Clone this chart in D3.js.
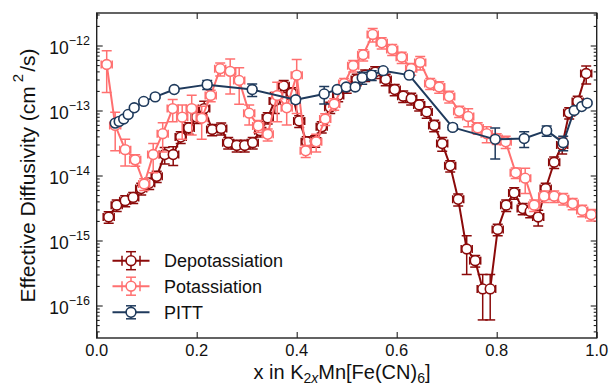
<!DOCTYPE html>
<html><head><meta charset="utf-8">
<script src="https://cdn.jsdelivr.net/npm/d3@7"></script>
<style>body{margin:0;background:#fff} svg{display:block} text{font-family:"Liberation Sans",Arial,sans-serif;fill:#111}</style>
</head><body><svg id="c" width="614" height="388"></svg>
<script>
// ---------------- data ----------------
const seriesNames = ["Depotassiation", "Potassiation", "PITT"];
const seriesColors = ["#8b0a0a", "#ff7070", "#1f3a5c"];

const depX = [0.024,0.040,0.057,0.073,0.089,0.105,0.120,0.136,0.153,0.168,
  0.184,0.200,0.215,0.231,0.249,0.263,0.280,0.296,0.312,0.327,
  0.342,0.356,0.374,0.390,0.405,0.420,0.437,0.450,0.467,0.483,
  0.500,0.520,0.537,0.557,0.578,0.596,0.613,0.629,0.645,0.660,
  0.675,0.691,0.707,0.723,0.740,0.757,0.772,0.787,0.802,0.819,
  0.835,0.852,0.867,0.883,0.898,0.915,0.931,0.945,0.962,0.979];
const depD = [2.3e-15,3.5e-15,4.1e-15,4.6e-15,6.3e-15,7.6e-15,9.7e-15,2.1e-14,2.1e-14,3.9e-14,
  5.4e-14,7.9e-14,1.07e-13,5.1e-14,5.3e-14,3.2e-14,2.9e-14,2.9e-14,3.2e-14,4.9e-14,
  7.7e-14,1.4e-13,2.4e-13,1.86e-13,6.9e-14,3.3e-14,3.4e-14,5.6e-14,1.12e-13,1.7e-13,
  2.3e-13,3.0e-13,3.5e-13,3.9e-13,3.0e-13,2.1e-13,1.66e-13,1.53e-13,1.22e-13,9.5e-14,
  5.9e-14,3.1e-14,1.41e-14,4.3e-15,7.4e-16,4.9e-16,1.8e-16,1.8e-16,1.48e-15,3.5e-15,
  5.4e-15,3.1e-15,2.8e-15,2.3e-15,6.3e-15,1.6e-14,2.95e-14,9.2e-14,1.38e-13,3.7e-13];
const depErr = [4.6e-16,7e-16,8e-16,9e-16,1.3e-15,1.5e-15,1.9e-15,6e-15,6.7e-15,8e-15,
  1.1e-14,1.6e-14,3.2e-14,1e-14,1.1e-14,6.4e-15,6e-15,6e-15,6.4e-15,1e-14,
  1.5e-14,5e-14,5e-14,3.7e-14,1.4e-14,6.6e-15,6.8e-15,1.1e-14,2.2e-14,3.4e-14,
  4.6e-14,6e-14,7e-14,8e-14,6e-14,4.2e-14,3.3e-14,3.1e-14,2.4e-14,1.9e-14,
  1.2e-14,7.4e-15,2.8e-15,9e-16,4.4e-16,1e-16,1.2e-16,1.2e-16,3e-16,7e-16,
  1.1e-15,6.2e-16,5.6e-16,6.3e-16,1.3e-15,3.2e-15,8e-15,1.8e-14,2.8e-14,1.15e-13];

const potX = [0.020,0.037,0.057,0.077,0.095,0.113,0.132,0.152,0.171,0.190,
  0.210,0.228,0.247,0.267,0.285,0.305,0.323,0.342,0.361,0.380,
  0.400,0.418,0.439,0.457,0.475,0.495,0.513,0.533,0.552,0.570,
  0.591,0.610,0.629,0.647,0.667,0.685,0.705,0.725,0.743,0.762,
  0.780,0.800,0.818,0.838,0.857,0.875,0.895,0.915,0.933,0.952,
  0.971,0.989];
const potD = [5.1e-13,5.9e-14,2.5e-14,1.74e-14,7.4e-15,2.1e-14,4.4e-14,1.07e-13,7.9e-14,1.07e-13,
  7.6e-14,1.7e-13,4.4e-13,4.0e-13,2.9e-13,9.1e-14,5.8e-14,4.3e-14,1.7e-13,1.1e-13,
  3.5e-13,2.4e-14,3.3e-14,7.4e-14,1.26e-13,2.6e-13,4.9e-13,7.2e-13,1.48e-12,1.1e-12,
  8.7e-13,6.6e-13,4.4e-13,5.5e-13,2.6e-13,2.3e-13,1.64e-13,9.7e-14,8.1e-14,5.4e-14,
  4.4e-14,3.7e-14,3.3e-14,1.1e-14,9.1e-15,3.5e-15,4.8e-15,4.8e-15,4.4e-15,3.7e-15,
  2.9e-15,2.5e-15];
const potErr = [3.2e-13,3.5e-14,1.1e-14,3.5e-15,1.5e-15,1.0e-14,2.1e-14,4e-14,4.3e-14,6.5e-14,
  4e-14,3.4e-14,1.0e-13,2.2e-13,1.65e-13,3.1e-14,1.2e-14,9e-15,1.03e-13,5e-14,
  2.6e-13,5e-15,1e-14,1.5e-14,2.5e-14,5.2e-14,1e-13,1.4e-13,3.5e-13,2.2e-13,
  1.7e-13,1.3e-13,9e-14,1.3e-13,5e-14,4.6e-14,3.3e-14,1.9e-14,2.5e-14,1.1e-14,
  1.2e-14,7e-15,7e-15,2e-15,3.8e-15,7e-16,9.6e-16,9.6e-16,8.8e-16,7.4e-16,
  5.8e-16,5e-16];

const pittX = [0.037,0.045,0.054,0.063,0.075,0.094,0.117,0.155,0.221,0.311,
  0.398,0.455,0.481,0.499,0.517,0.531,0.550,0.573,0.625,0.712,
  0.797,0.855,0.900,0.933,0.955,0.970,0.981];
const pittD = [6.4e-14,6.8e-14,7.4e-14,8.7e-14,1.1e-13,1.38e-13,1.62e-13,2.1e-13,2.5e-13,2.1e-13,
  1.46e-13,1.8e-13,2.1e-13,2.3e-13,2.3e-13,3.2e-13,3.5e-13,4.1e-13,3.5e-13,5.5e-14,
  3.6e-14,3.7e-14,4.9e-14,3.2e-14,1.0e-13,1.15e-13,1.3e-13];
const pittErr = [3e-15,3e-15,4e-15,4e-15,6e-15,7e-15,8e-15,1e-14,4e-14,4.6e-14,
  1.5e-14,5.4e-14,1e-14,1.2e-14,1.2e-14,6.7e-14,6e-14,3e-14,2e-14,5e-15,
  1.8e-14,1e-14,9e-15,8e-15,5e-15,6e-15,6e-15];

const xErrs = [0.011, 0.011, 0];   // horizontal error per series

const xTickValues = [0, 0.2, 0.4, 0.6, 0.8, 1.0];
const xTickLabels = ["0.0", "0.2", "0.4", "0.6", "0.8", "1.0"];
const yTickExps = [-16, -15, -14, -13, -12];
const yTickLabels = ["\u221216", "\u221215", "\u221214", "\u221213", "\u221212"];

// ---------------- chart ----------------
const L = 96.7, R = 596.7, T = 13, B = 338;
const svg = d3.select("#c");
const x = d3.scaleLinear().domain([0, 1]).range([L, R]);
const y = d3.scaleLog().domain([Math.pow(10, -16.5), Math.pow(10, -11.5)]).range([B, T]);

const majorY = yTickExps.map(e => Math.pow(10, e));
const minorY = [];
for (let e = -17; e <= -12; e++) for (let m = 2; m <= 9; m++) {
  const v = m * Math.pow(10, e);
  if (v > y.domain()[0] && v < y.domain()[1]) minorY.push(v);
}

function styleAxis(g) {
  g.select(".domain").remove();
  g.selectAll(".tick line").attr("stroke", "#222").attr("stroke-width", 1.1);
  g.selectAll(".tick text").remove();
}
svg.append("g").attr("transform", `translate(0,${B})`).call(d3.axisBottom(x).tickValues(xTickValues).tickSize(-6)).call(styleAxis);
svg.append("g").attr("transform", `translate(0,${T})`).call(d3.axisTop(x).tickValues(xTickValues).tickSize(-6)).call(styleAxis);
svg.append("g").attr("transform", `translate(${L},0)`).call(d3.axisLeft(y).tickValues(majorY).tickSize(-6)).call(styleAxis);
svg.append("g").attr("transform", `translate(${R},0)`).call(d3.axisRight(y).tickValues(majorY).tickSize(-6)).call(styleAxis);
svg.append("g").attr("transform", `translate(${L},0)`).call(d3.axisLeft(y).tickValues(minorY).tickSize(-3)).call(styleAxis);
svg.append("g").attr("transform", `translate(${R},0)`).call(d3.axisRight(y).tickValues(minorY).tickSize(-3)).call(styleAxis);

// tick labels
svg.append("g").selectAll("text").data(xTickValues).join("text")
  .attr("x", d => x(d)).attr("y", 356).attr("text-anchor", "middle")
  .attr("font-size", 16.5).text((d, i) => xTickLabels[i]);

const yl = svg.append("g").selectAll("text").data(majorY).join("text")
  .attr("x", 90).attr("y", d => y(d) + 8.5).attr("text-anchor", "end").attr("font-size", 17.5);
yl.append("tspan").text("10");
yl.append("tspan").attr("dy", -9.5).attr("font-size", 12.5).text((d, i) => yTickLabels[i]);

// axis titles
const xt = svg.append("text").attr("x", 342).attr("y", 378.5).attr("text-anchor", "middle").attr("font-size", 20);
xt.append("tspan").text("x in K");
xt.append("tspan").attr("dy", 4.5).attr("font-size", 14).text("2");
xt.append("tspan").attr("font-size", 14).attr("font-style", "italic").text("x");
xt.append("tspan").attr("dy", -4.5).text("Mn[Fe(CN)");
xt.append("tspan").attr("dy", 4.5).attr("font-size", 14).text("6");
xt.append("tspan").attr("dy", -4.5).text("]");

const yt = svg.append("text").attr("transform", `translate(34.5,${(T + B) / 2}) rotate(-90)`)
  .attr("text-anchor", "middle").attr("font-size", 21);
yt.append("tspan").text("Effective Diffusivity (cm");
yt.append("tspan").attr("dx", 4).attr("dy", -12).attr("font-size", 15).text("2");
yt.append("tspan").attr("dx", 2).attr("dy", 12).text("/s)");

// clip
svg.append("defs").append("clipPath").attr("id", "clip").append("rect")
  .attr("x", L).attr("y", T).attr("width", R - L).attr("height", B - T);

const plot = svg.append("g").attr("clip-path", "url(#clip)");
const allSeries = [
  {xs: depX, ds: depD, es: depErr},
  {xs: potX, ds: potD, es: potErr},
  {xs: pittX, ds: pittD, es: pittErr}
];
const cap = 5, hcap = 4, r = 4.9;
allSeries.forEach((s, si) => {
  const col = seriesColors[si];
  const pts = s.xs.map((xv, i) => ({x: xv, d: s.ds[i], e: s.es[i]}));
  const g = plot.append("g");
  g.append("path").datum(pts)
    .attr("d", d3.line().x(p => x(p.x)).y(p => y(p.d)))
    .attr("fill", "none").attr("stroke", col).attr("stroke-width", 2).attr("stroke-linejoin", "round");
  const eb = g.append("g").attr("stroke", col).attr("stroke-width", 1.5).attr("fill", "none");
  pts.forEach(p => {
    const cx = x(p.x);
    const yHi = y(p.d + p.e);
    const lo = p.d - p.e;
    const yLo = lo > 0 ? y(lo) : B + 20;
    eb.append("line").attr("x1", cx).attr("x2", cx).attr("y1", yHi).attr("y2", yLo);
    eb.append("line").attr("x1", cx - cap).attr("x2", cx + cap).attr("y1", yHi).attr("y2", yHi);
    eb.append("line").attr("x1", cx - cap).attr("x2", cx + cap).attr("y1", yLo).attr("y2", yLo);
    if (xErrs[si] > 0) {
      const cy = y(p.d);
      const x1 = x(p.x - xErrs[si]), x2 = x(p.x + xErrs[si]);
      eb.append("line").attr("x1", x1).attr("x2", x2).attr("y1", cy).attr("y2", cy);
      eb.append("line").attr("x1", x1).attr("x2", x1).attr("y1", cy - hcap).attr("y2", cy + hcap);
      eb.append("line").attr("x1", x2).attr("x2", x2).attr("y1", cy - hcap).attr("y2", cy + hcap);
    }
  });
  g.selectAll("circle").data(pts).join("circle")
    .attr("cx", p => x(p.x)).attr("cy", p => y(p.d)).attr("r", r)
    .attr("fill", "#fff").attr("stroke", col).attr("stroke-width", 1.6);
});

// frame
svg.append("rect").attr("x", L).attr("y", T).attr("width", R - L).attr("height", B - T)
  .attr("fill", "none").attr("stroke", "#222").attr("stroke-width", 1.4);

// legend
const legY = [260.7, 286.2, 312.3];
const lg = svg.append("g");
seriesNames.forEach((name, i) => {
  const col = seriesColors[i], cy = legY[i], cx = 131;
  const g = lg.append("g").attr("stroke", col).attr("fill", "none");
  g.append("line").attr("x1", 112.5).attr("x2", 149.5).attr("y1", cy).attr("y2", cy).attr("stroke-width", 2);
  const vh = i < 2 ? 9 : 6.5;
  g.append("line").attr("x1", cx).attr("x2", cx).attr("y1", cy - vh).attr("y2", cy + vh).attr("stroke-width", 1.5);
  g.append("line").attr("x1", cx - cap).attr("x2", cx + cap).attr("y1", cy - vh).attr("y2", cy - vh).attr("stroke-width", 1.5);
  g.append("line").attr("x1", cx - cap).attr("x2", cx + cap).attr("y1", cy + vh).attr("y2", cy + vh).attr("stroke-width", 1.5);
  if (i < 2) {
    g.append("line").attr("x1", cx - 9).attr("x2", cx - 9).attr("y1", cy - cap).attr("y2", cy + cap).attr("stroke-width", 1.5);
    g.append("line").attr("x1", cx + 9).attr("x2", cx + 9).attr("y1", cy - cap).attr("y2", cy + cap).attr("stroke-width", 1.5);
  }
  g.append("circle").attr("cx", cx).attr("cy", cy).attr("r", r).attr("fill", "#fff").attr("stroke-width", 1.6);
  lg.append("text").attr("x", 164).attr("y", cy + 6.5).attr("font-size", 18).text(name);
});
</script></body></html>
